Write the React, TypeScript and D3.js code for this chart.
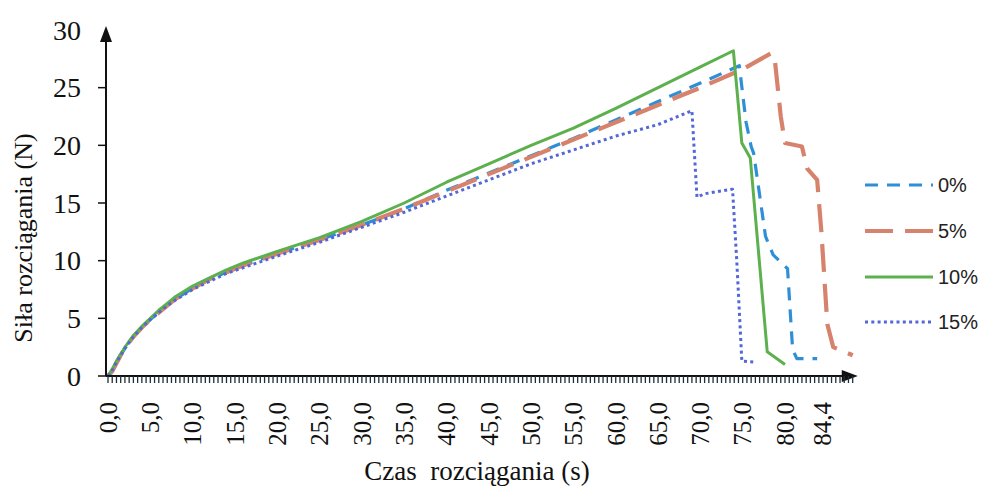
import React from "react";
import * as d3 from "d3";

// ---- data ----
const yTickValues = [0, 5, 10, 15, 20, 25];
const yLabelValues = [0, 5, 10, 15, 20, 25, 30];
const xLabelValues = [0, 5, 10, 15, 20, 25, 30, 35, 40, 45, 50, 55, 60, 65, 70, 75, 80, 84.4];
const seriesNames = ["0%", "5%", "10%", "15%"];

const series0: [number, number][] = [
  [0, 0], [0.5, 0.4], [1, 1.1], [1.5, 1.8], [2, 2.4], [3, 3.4], [4, 4.2], [5, 4.9], [6, 5.5], [7, 6.1], [8, 6.7],
  [10, 7.6], [12, 8.4], [14, 9.0], [16, 9.6], [18, 10.1], [20, 10.6], [25, 11.8], [30, 13.1], [35, 14.5],
  [40, 16.1], [45, 17.6], [50, 19.1], [55, 20.6], [60, 22.2], [65, 23.8], [70, 25.4], [74.6, 26.9],
  [75.4, 22.0], [76.0, 19.9], [76.3, 19.3], [77.7, 12.1], [78.6, 10.5], [80.3, 9.3], [80.9, 2.3],
  [81.4, 1.5], [83.8, 1.5],
];
const series5: [number, number][] = [
  [0, 0], [0.5, 0.4], [1, 1.1], [1.5, 1.8], [2, 2.4], [3, 3.4], [4, 4.2], [5, 4.9], [6, 5.5], [7, 6.1], [8, 6.7],
  [10, 7.6], [12, 8.4], [14, 9.0], [16, 9.6], [18, 10.1], [20, 10.6], [25, 11.8], [30, 13.1], [35, 14.5],
  [40, 16.0], [45, 17.5], [50, 19.0], [55, 20.5], [60, 22.0], [65, 23.5], [70, 25.0], [75, 26.6],
  [78.4, 28.0], [78.8, 27.4], [79.5, 22.5], [80.0, 20.2], [82.0, 19.9], [82.6, 18.0], [83.8, 17.0],
  [84.3, 12.5], [85.0, 4.5], [85.7, 2.5], [88.0, 1.8],
];
const series10: [number, number][] = [
  [0, 0], [0.5, 0.6], [1, 1.3], [1.5, 1.9], [2, 2.5], [3, 3.5], [4, 4.3], [5, 5.0], [6, 5.7], [7, 6.3], [8, 6.9],
  [10, 7.8], [12, 8.5], [14, 9.2], [16, 9.8], [18, 10.3], [20, 10.8], [25, 12.0], [30, 13.4], [35, 15.0],
  [40, 16.8], [45, 18.4], [50, 20.0], [55, 21.5], [60, 23.2], [65, 25.0], [70, 26.8], [73.9, 28.2],
  [74.9, 20.2], [75.9, 18.9], [77.9, 2.1], [80.0, 1.0],
];
const series15: [number, number][] = [
  [0, 0], [0.5, 0.5], [1, 1.2], [1.5, 1.8], [2, 2.4], [3, 3.4], [4, 4.2], [5, 4.9], [6, 5.5], [7, 6.1], [8, 6.6],
  [10, 7.5], [12, 8.2], [14, 8.9], [16, 9.4], [18, 9.9], [20, 10.4], [25, 11.6], [30, 12.9], [35, 14.2],
  [40, 15.6], [45, 17.0], [50, 18.4], [55, 19.6], [60, 20.8], [65, 21.8], [69.0, 23.0], [69.6, 15.5],
  [70.5, 15.8], [73.8, 16.2], [74.3, 10.0], [74.9, 1.3], [76.5, 1.2],
];

const allSeries = [series0, series5, series10, series15];
const styles = [
  { color: "#2F8FD6", width: 3.2, dash: "13 9" },
  { color: "#D7826C", width: 4.2, dash: "28 12" },
  { color: "#5DB04E", width: 3, dash: "" },
  { color: "#5368D6", width: 3, dash: "3 3.3" },
];

export default function App() {
  const W = 986, H = 491;
  const x = d3.scaleLinear().domain([0, 80]).range([108, 785]);
  const y = d3.scaleLinear().domain([0, 30]).range([376, 30]);
  const x0 = x(0) - 2;
  const xEnd = x(88.6);
  const yTop = y(30) - 2;
  const line = d3.line<[number, number]>().x(d => x(d[0])).y(d => y(d[1])).curve(d3.curveLinear);
  const minorTicks = d3.range(0, 88.01, 0.5);
  const fmt = (v: number) => v.toFixed(1).replace(".", ",");
  const serif = "'Liberation Serif', 'Times New Roman', serif";
  const sans = "'Liberation Sans', Arial, sans-serif";
  const legendX1 = 865, legendX2 = 933;
  const legendY = [185, 231, 277, 322];

  return (
    <svg width={W} height={H} style={{ position: "absolute", left: 0, top: 0, background: "#fff" }}>
      <rect x={0} y={0} width={W} height={H} fill="#fff" />
      {/* series */}
      {allSeries.map((s, i) => (
        <path key={i} d={line(s) || ""} fill="none" stroke={styles[i].color} strokeWidth={styles[i].width}
          strokeDasharray={styles[i].dash} strokeLinejoin="round" />
      ))}
      {/* x axis */}
      <line x1={x0} x2={xEnd - 10} y1={y(0)} y2={y(0)} stroke="#111" strokeWidth={2} />
      <path d={`M${xEnd},${y(0)} L${xEnd - 16},${y(0) - 6} L${xEnd - 16},${y(0) + 6} Z`} fill="#111" />
      {minorTicks.map((t, i) => (
        <line key={i} x1={x(t)} x2={x(t)} y1={y(0)} y2={y(0) + 7} stroke="#1f2f3a" strokeWidth={1.3} />
      ))}
      {xLabelValues.map((v, i) => (
        <text key={i} transform={`translate(${x(v)},402) rotate(-90)`} textAnchor="end" dy="0.35em"
          fontFamily={serif} fontSize={25} fill="#111">{fmt(v)}</text>
      ))}
      {/* y axis */}
      <line x1={x0} x2={x0} y1={y(0)} y2={yTop + 12} stroke="#111" strokeWidth={2} />
      <path d={`M${x0},${yTop - 2} L${x0 - 6},${yTop + 14} L${x0 + 6},${yTop + 14} Z`} fill="#111" />
      {yTickValues.map((v, i) => (
        <line key={i} x1={x0 - 8} x2={x0} y1={y(v)} y2={y(v)} stroke="#111" strokeWidth={1.5} />
      ))}
      {yLabelValues.map((v, i) => (
        <text key={i} x={81} y={y(v)} dy="0.35em" textAnchor="end" fontFamily={serif} fontSize={28} fill="#111">{v}</text>
      ))}
      {/* axis titles */}
      <text transform="translate(32,238) rotate(-90)" textAnchor="middle" fontFamily={serif} fontSize={26} fill="#111">Siła rozciągania (N)</text>
      <text x={477} y={480} textAnchor="middle" fontFamily={serif} fontSize={27} fill="#111" style={{ whiteSpace: "pre" }}>{"Czas  rozciągania (s)"}</text>
      {/* legend */}
      {seriesNames.map((n, i) => (
        <g key={n}>
          <line x1={legendX1} x2={legendX2} y1={legendY[i]} y2={legendY[i]} stroke={styles[i].color}
            strokeWidth={styles[i].width} strokeDasharray={styles[i].dash} />
          <text x={938} y={legendY[i]} dy="0.35em" fontFamily={sans} fontSize={20} fill="#222">{n}</text>
        </g>
      ))}
    </svg>
  );
}
